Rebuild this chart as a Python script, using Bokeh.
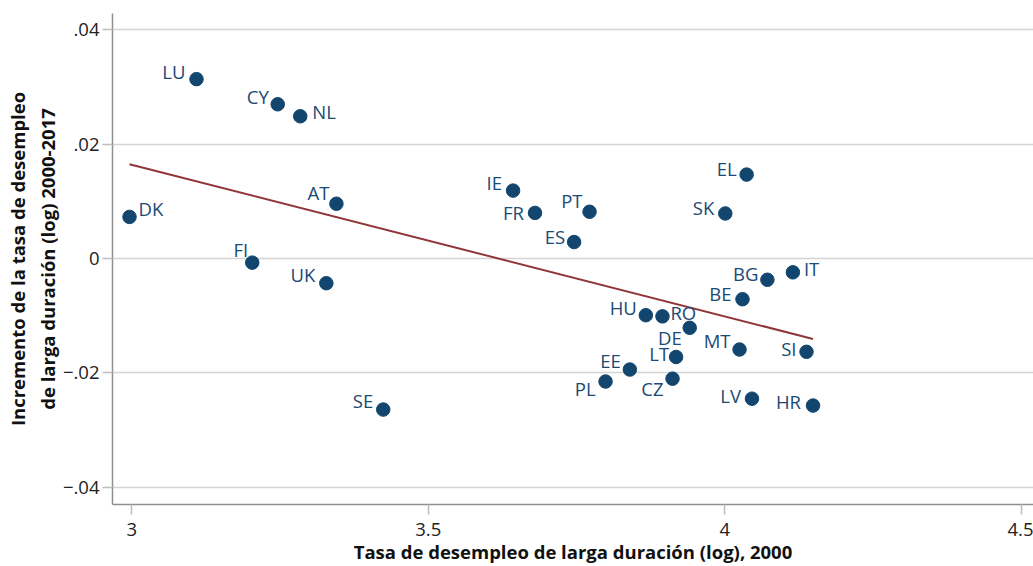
from bokeh.plotting import figure
from bokeh.models import ColumnDataSource, FixedTicker, Range1d
from bokeh.core.properties import value
from bokeh.embed import file_html
from bokeh.resources import INLINE

# ---- data ----
countries = ["LU", "CY", "NL", "DK", "AT", "FI", "UK", "SE", "IE", "FR", "PT", "ES",
             "HU", "RO", "DE", "LT", "EE", "PL", "CZ", "EL", "SK", "BG", "IT", "BE",
             "MT", "SI", "LV", "HR"]
ltu_2000 = [3.109, 3.246, 3.284, 2.996, 3.345, 3.203, 3.328, 3.424, 3.643, 3.680, 3.772, 3.746,
            3.867, 3.895, 3.941, 3.918, 3.840, 3.799, 3.912, 4.037, 4.001, 4.072, 4.115, 4.030,
            4.025, 4.138, 4.046, 4.149]
ltu_growth = [0.0314, 0.0270, 0.0249, 0.0073, 0.0096, -0.0007, -0.0043, -0.0264, 0.0119, 0.0080,
              0.0082, 0.0029, -0.0099, -0.0101, -0.0121, -0.0172, -0.0194, -0.0215, -0.0210,
              0.0147, 0.0079, -0.0037, -0.0024, -0.0071, -0.0159, -0.0163, -0.0245, -0.0257]
fit_slope = -0.0265
fit_intercept = 0.0959

x_ticks = [3, 3.5, 4, 4.5]
x_tick_labels = ["3", "3.5", "4", "4.5"]
y_ticks = [-0.04, -0.02, 0, 0.02, 0.04]
y_tick_labels = ["\u2212.04", "\u2212.02", "0", ".02", ".04"]

# ---- label placement (style) : (dx, dy) in px ----
label_pos = {
    "LU": (-11, -8), "CY": (-9, -8), "NL": (12, -5), "DK": (9, -8), "AT": (-7, -11),
    "FI": (-4, -13), "UK": (-11, -9), "SE": (-10, -9), "IE": (-11, -8), "FR": (-11, 0),
    "PT": (-7, -11), "ES": (-9, -6), "HU": (-9, -8), "RO": (8, -4), "DE": (-8, 10),
    "LT": (-7, -3), "EE": (-9, -9), "PL": (-10, 7), "CZ": (-9, 10), "EL": (-10, -6),
    "SK": (-11, -6), "BG": (-9, -6), "IT": (11, -4), "BE": (-11, -6), "MT": (-9, -9),
    "SI": (-10, -3), "LV": (-11, -3), "HR": (-12, -4),
}

FONT = "Open Sans"
NAVY = "#12466e"
MAROON = "#903539"

p = figure(width=1033, height=566, output_backend="svg", toolbar_location=None,
           x_range=Range1d(2.9673, 4.5209), y_range=Range1d(-0.04301, 0.04288),
           min_border_left=112, min_border_right=0, min_border_top=13, min_border_bottom=62)
p.outline_line_color = None
p.background_fill_color = "white"
p.xgrid.grid_line_color = None
p.ygrid.grid_line_color = "#d4d4d4"
p.ygrid.grid_line_width = 1.5

for ax in (p.xaxis[0], p.yaxis[0]):
    ax.axis_line_color = "#8f8f8f"
    ax.axis_line_width = 1.5
    ax.major_tick_line_color = "#bdbdbd"
    ax.major_tick_line_width = 1.5
    ax.major_tick_in = 0
    ax.major_tick_out = 10
    ax.minor_tick_line_color = None
    ax.major_label_text_font = FONT
    ax.major_label_text_font_size = "18.5px"
    ax.major_label_text_color = "#222222"
    ax.axis_label_text_font = FONT
    ax.axis_label_text_font_style = "bold"
    ax.axis_label_text_font_size = "18.5px"
    ax.axis_label_text_color = "#111111"

p.xaxis.ticker = FixedTicker(ticks=x_ticks)
p.xaxis.major_label_overrides = dict(zip(x_ticks, x_tick_labels))
p.yaxis.ticker = FixedTicker(ticks=y_ticks)
p.yaxis.major_label_overrides = dict(zip(y_ticks, y_tick_labels))
p.xaxis.major_label_standoff = 8
p.yaxis.major_label_standoff = 3
p.xaxis.axis_label = "Tasa de desempleo de larga duración (log), 2000"
p.yaxis.axis_label = "Incremento de la tasa de desempleo\nde larga duración (log) 2000-2017"
p.xaxis.axis_label_standoff = 0
p.yaxis.axis_label_standoff = 0

x0, x1 = min(ltu_2000), max(ltu_2000)
p.line([x0, x1], [fit_intercept + fit_slope * x0, fit_intercept + fit_slope * x1],
       line_color=MAROON, line_width=2)

dx = [label_pos[c][0] for c in countries]
dy = [label_pos[c][1] for c in countries]
align = ["right" if d < 0 else "left" for d in dx]
src = ColumnDataSource(dict(x=ltu_2000, y=ltu_growth, label=countries, dx=dx, dy=dy, align=align))
p.scatter("x", "y", source=src, size=13.5, fill_color=NAVY, line_color=NAVY)
p.text("x", "y", text="label", source=src, x_offset="dx", y_offset="dy",
       text_align="align", text_baseline="middle", text_font=value(FONT),
       text_font_size="18.5px", text_color="#1a4a75")

open("out.html", "w").write(file_html(p, INLINE))
